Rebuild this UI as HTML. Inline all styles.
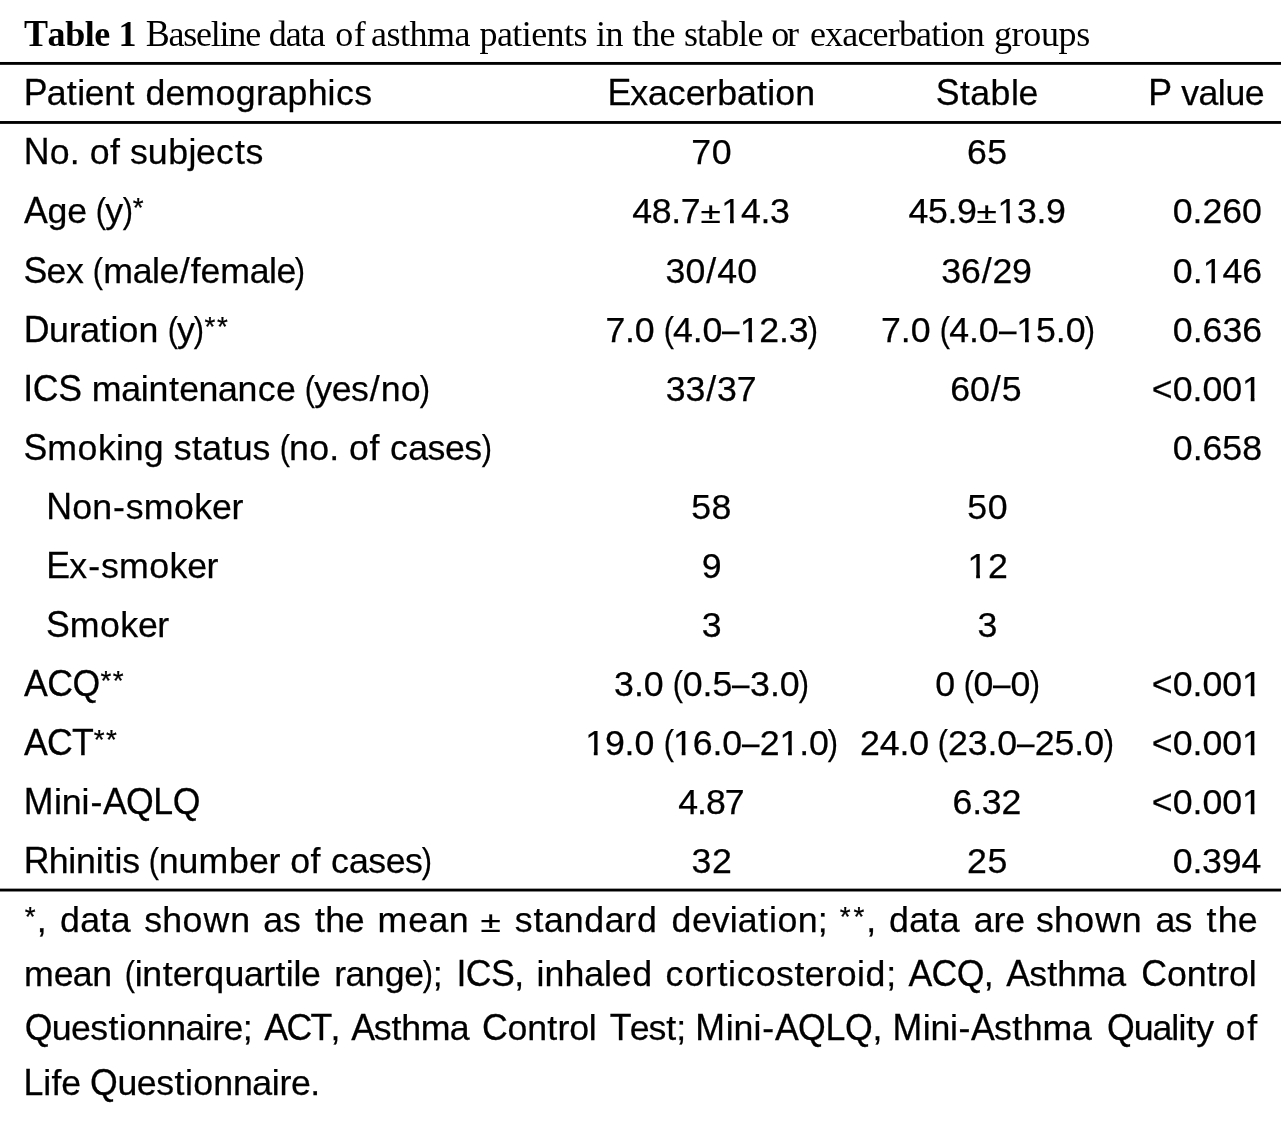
<!DOCTYPE html>
<html><head><meta charset="utf-8"><title>Table 1</title>
<style>
html,body{margin:0;padding:0;background:#fff;}
body{width:1281px;height:1125px;position:relative;overflow:hidden;font-family:"Liberation Sans",sans-serif;color:#000;}
#w{position:absolute;left:0;top:0;width:1281px;height:1125px;will-change:transform;}
.s,.cb,.cr{position:absolute;white-space:pre;line-height:40px;height:40px;}
.s{font-size:35.7px;-webkit-text-stroke:0.25px #000;}
.cb,.cr{font-family:"Liberation Serif",serif;font-size:36.0px;}
.cb{font-weight:bold;}
.U,.G{display:inline-block;transform-origin:0 32px;}
.U{transform:scaleY(1.04);}
.G{transform:scaleY(1.03);}
.o{display:inline-block;clip-path:polygon(0 0,100% 0,100% 28.7px,12.45px 28.7px,12.45px 100%,8.65px 100%,8.65px 28.7px,0 28.7px);}
.hl{position:absolute;left:0;width:1281px;background:#000;}
.k0{letter-spacing:calc(var(--r,0px) + -0.056em);margin:0 0.028em 0 -0.028em;}
.k1{letter-spacing:calc(var(--r,0px) + -0.037em);margin:0 0.018em 0 -0.018em;}
.k2{letter-spacing:calc(var(--r,0px) + -0.019em);margin:0 0.009em 0 -0.009em;}
.k3{letter-spacing:calc(var(--r,0px) + -0.018em);margin:0 0.009em 0 -0.009em;}
.k4{letter-spacing:calc(var(--r,0px) + 0.016em);margin:0 -0.008em 0 0.008em;}
.k5{letter-spacing:calc(var(--r,0px) + 0.018em);margin:0 -0.009em 0 0.009em;}
.k6{letter-spacing:calc(var(--r,0px) + 0.019em);margin:0 -0.009em 0 0.009em;}
.k7{letter-spacing:calc(var(--r,0px) + 0.020em);margin:0 -0.010em 0 0.010em;}
.k8{letter-spacing:calc(var(--r,0px) + 0.036em);margin:0 -0.018em 0 0.018em;}
.k9{letter-spacing:calc(var(--r,0px) + 0.037em);margin:0 -0.018em 0 0.018em;}
.k10{letter-spacing:calc(var(--r,0px) + 0.038em);margin:0 -0.019em 0 0.019em;}
.k11{letter-spacing:calc(var(--r,0px) + 0.055em);margin:0 -0.028em 0 0.028em;}
.k12{letter-spacing:calc(var(--r,0px) + 0.056em);margin:0 -0.028em 0 0.028em;}
.pa{display:inline-block;transform:scaleX(.86);letter-spacing:calc(var(--r,0px) + -0.074em);margin:0 0.037em 0 -0.037em;}
.pm{display:inline-block;transform:scale(1.04,.83);transform-origin:50% 32px;letter-spacing:calc(var(--r,0px) + 0.051em);margin:0 -0.026em 0 0.026em;}
.da{display:inline-block;transform:scaleX(.88);letter-spacing:calc(var(--r,0px) + -0.056em);margin:0 0.028em 0 -0.028em;}
.as{font-size:0.78em;line-height:0;position:relative;top:-6.4px;letter-spacing:calc(var(--r,0px) + 0.062em);margin:0 -0.031em 0 0.031em;}

</style></head><body><div id="w">
<svg width="1281" height="1125" viewBox="0 0 1281 1125" style="position:absolute;left:0;top:0"><rect x="0" y="61.98" width="1281" height="2.85" fill="#000"/><rect x="0" y="121.03" width="1281" height="2.85" fill="#000"/><rect x="0" y="888.63" width="1281" height="2.85" fill="#000"/></svg>
<div class="s" id="a0" style="left:24.17px;top:73.00px;letter-spacing:-0.131px;--r:-0.131px;"><span class="U"><span class="k2">P</span></span><span class="k2">a</span><span class="k9">t</span>i<span class="k2">e</span>n<span class="k9">t</span> <span class="k9">d</span><span class="k2">e</span><span class="k7">m</span><span class="k5">og</span>r<span class="k2">a</span><span class="k9">p</span>hi<span class="k9">c</span>s</div>
<div class="s" id="a1" style="left:23.81px;top:132.00px;letter-spacing:-0.124px;--r:-0.124px;"><span class="U">N</span><span class="k5">o</span>. <span class="k5">of</span> su<span class="k9">b</span>j<span class="k2">e</span><span class="k9">ct</span>s</div>
<div class="s" id="a2" style="left:24.21px;top:191.00px;letter-spacing:-0.190px;--r:-0.190px;"><span class="U"><span class="k2">A</span></span><span class="k5">g</span><span class="k2">e</span> <span class="pa">(</span>y<span class="pa">)</span><span class="as">*</span></div>
<div class="s" id="a3" style="left:23.89px;top:251.00px;letter-spacing:-0.203px;--r:-0.203px;"><span class="U"><span class="k2">S</span></span><span class="k2">e</span><span class="k5">x</span> <span class="pa">(</span><span class="k7">m</span><span class="k2">a</span>l<span class="k2">e</span><span class="k11">/</span><span class="k5">f</span><span class="k2">e</span><span class="k7">m</span><span class="k2">a</span>l<span class="k2">e</span><span class="pa">)</span></div>
<div class="s" id="a4" style="left:24.15px;top:310.00px;letter-spacing:-0.190px;--r:-0.190px;"><span class="U"><span class="k3">D</span></span>ur<span class="k2">a</span><span class="k9">t</span>i<span class="k5">o</span>n <span class="pa">(</span>y<span class="pa">)</span><span class="as">*</span><span class="as">*</span></div>
<div class="s" id="a5" style="left:23.64px;top:369.00px;letter-spacing:-0.098px;--r:-0.098px;"><span class="U"><span class="k2">I</span>C<span class="k2">S</span></span> <span class="k7">m</span><span class="k2">a</span>in<span class="k9">t</span><span class="k2">e</span>n<span class="k2">a</span>n<span class="k9">c</span><span class="k2">e</span> <span class="pa">(</span>y<span class="k2">e</span>s<span class="k11">/</span>n<span class="k5">o</span><span class="pa">)</span></div>
<div class="s" id="a6" style="left:23.89px;top:428.00px;letter-spacing:-0.123px;--r:-0.123px;"><span class="U"><span class="k2">S</span></span><span class="k7">m</span><span class="k5">o</span><span class="k6">k</span>in<span class="k5">g</span> s<span class="k9">t</span><span class="k2">a</span><span class="k9">t</span>us <span class="pa">(</span>n<span class="k5">o</span>. <span class="k5">of</span> <span class="k9">c</span><span class="k2">a</span>s<span class="k2">e</span>s<span class="pa">)</span></div>
<div class="s" id="a7" style="left:46.22px;top:487.00px;letter-spacing:-0.151px;--r:-0.151px;"><span class="U">N</span><span class="k5">o</span>n<span class="k12">-</span>s<span class="k7">m</span><span class="k5">o</span><span class="k6">k</span><span class="k2">e</span>r</div>
<div class="s" id="a8" style="left:47.22px;top:546.00px;letter-spacing:-0.163px;--r:-0.163px;"><span class="U"><span class="k0">E</span></span><span class="k5">x</span><span class="k12">-</span>s<span class="k7">m</span><span class="k5">o</span><span class="k6">k</span><span class="k2">e</span>r</div>
<div class="s" id="a9" style="left:46.36px;top:605.00px;letter-spacing:-0.164px;--r:-0.164px;"><span class="U"><span class="k2">S</span></span><span class="k7">m</span><span class="k5">o</span><span class="k6">k</span><span class="k2">e</span>r</div>
<div class="s" id="a10" style="left:24.21px;top:664.00px;letter-spacing:-0.209px;--r:-0.209px;"><span class="U"><span class="k2">A</span>C<span class="k3">Q</span></span><span class="as">*</span><span class="as">*</span></div>
<div class="s" id="a11" style="left:24.21px;top:723.00px;letter-spacing:-0.241px;--r:-0.241px;"><span class="U"><span class="k2">A</span>C<span class="k1">T</span></span><span class="as">*</span><span class="as">*</span></div>
<div class="s" id="a12" style="left:23.05px;top:782.00px;letter-spacing:-0.114px;--r:-0.114px;"><span class="U"><span class="k10">M</span></span>ini<span class="k12">-</span><span class="U"><span class="k2">A</span><span class="k3">Q</span>L<span class="k3">Q</span></span></div>
<div class="s" id="a13" style="left:24.35px;top:841.00px;letter-spacing:-0.178px;--r:-0.178px;"><span class="U"><span class="k1">R</span></span>hini<span class="k9">t</span>is <span class="pa">(</span>nu<span class="k7">m</span><span class="k9">b</span><span class="k2">e</span>r <span class="k5">of</span> <span class="k9">c</span><span class="k2">a</span>s<span class="k2">e</span>s<span class="pa">)</span></div>
<div class="s" id="b0" style="left:608.52px;top:73.00px;letter-spacing:-0.287px;--r:-0.287px;"><span class="U"><span class="k0">E</span></span><span class="k5">x</span><span class="k2">a</span><span class="k9">c</span><span class="k2">e</span>r<span class="k9">b</span><span class="k2">a</span><span class="k9">t</span>i<span class="k5">o</span>n</div>
<div class="s" id="b1" style="left:691.22px;top:132.00px;letter-spacing:0.600px;--r:0.600px;">70</div>
<div class="s" id="b2" style="left:632.16px;top:191.00px;letter-spacing:-0.337px;--r:-0.337px;">48.7<span class="pm">±</span><span class="o">1</span>4.3</div>
<div class="s" id="b3" style="left:665.46px;top:251.00px;letter-spacing:0.099px;--r:0.099px;">30<span class="k11">/</span>40</div>
<div class="s" id="b4" style="left:605.42px;top:310.00px;letter-spacing:-0.218px;--r:-0.218px;">7.0 <span class="pa">(</span>4.0<span class="da">–</span><span class="o">1</span>2.3<span class="pa">)</span></div>
<div class="s" id="b5" style="left:665.72px;top:369.00px;letter-spacing:-0.121px;--r:-0.121px;">33<span class="k11">/</span>37</div>
<div class="s" id="b7" style="left:691.17px;top:487.00px;letter-spacing:0.600px;--r:0.600px;">58</div>
<div class="s" id="b8" style="left:701.63px;top:546.00px;">9</div>
<div class="s" id="b9" style="left:701.85px;top:605.00px;">3</div>
<div class="s" id="b10" style="left:614.08px;top:664.00px;letter-spacing:-0.030px;--r:-0.030px;">3.0 <span class="pa">(</span>0.5<span class="da">–</span>3.0<span class="pa">)</span></div>
<div class="s" id="b11" style="left:585.18px;top:723.00px;letter-spacing:-0.131px;--r:-0.131px;"><span class="o">1</span>9.0 <span class="pa">(</span><span class="o">1</span>6.0<span class="da">–</span>2<span class="o">1</span>.0<span class="pa">)</span></div>
<div class="s" id="b12" style="left:678.17px;top:782.00px;letter-spacing:-0.970px;--r:-0.970px;">4.87</div>
<div class="s" id="b13" style="left:691.55px;top:841.00px;letter-spacing:0.600px;--r:0.600px;">32</div>
<div class="s" id="c0" style="left:936.18px;top:73.00px;letter-spacing:0.013px;--r:0.013px;"><span class="U"><span class="k2">S</span></span><span class="k9">t</span><span class="k2">a</span><span class="k9">b</span>l<span class="k2">e</span></div>
<div class="s" id="c1" style="left:966.88px;top:132.00px;letter-spacing:0.600px;--r:0.600px;">65</div>
<div class="s" id="c2" style="left:908.62px;top:191.00px;letter-spacing:-0.382px;--r:-0.382px;">45.9<span class="pm">±</span><span class="o">1</span>3.9</div>
<div class="s" id="c3" style="left:941.25px;top:251.00px;letter-spacing:-0.152px;--r:-0.152px;">36<span class="k11">/</span>29</div>
<div class="s" id="c4" style="left:881.12px;top:310.00px;letter-spacing:-0.112px;--r:-0.112px;">7.0 <span class="pa">(</span>4.0<span class="da">–</span><span class="o">1</span>5.0<span class="pa">)</span></div>
<div class="s" id="c5" style="left:950.19px;top:369.00px;letter-spacing:-0.007px;--r:-0.007px;">60<span class="k11">/</span>5</div>
<div class="s" id="c7" style="left:967.25px;top:487.00px;letter-spacing:0.600px;--r:0.600px;">50</div>
<div class="s" id="c8" style="left:967.50px;top:546.00px;letter-spacing:0.600px;--r:0.600px;"><span class="o">1</span>2</div>
<div class="s" id="c9" style="left:977.59px;top:605.00px;">3</div>
<div class="s" id="c10" style="left:935.21px;top:664.00px;letter-spacing:-0.273px;--r:-0.273px;">0 <span class="pa">(</span>0<span class="da">–</span>0<span class="pa">)</span></div>
<div class="s" id="c11" style="left:859.90px;top:723.00px;letter-spacing:-0.094px;--r:-0.094px;">24.0 <span class="pa">(</span>23.0<span class="da">–</span>25.0<span class="pa">)</span></div>
<div class="s" id="c12" style="left:952.60px;top:782.00px;letter-spacing:-0.243px;--r:-0.243px;">6.32</div>
<div class="s" id="c13" style="left:966.94px;top:841.00px;letter-spacing:0.600px;--r:0.600px;">25</div>
<div class="s" id="d0" style="left:1148.54px;top:73.00px;letter-spacing:-0.213px;--r:-0.213px;"><span class="U"><span class="k2">P</span></span> v<span class="k2">a</span>lu<span class="k2">e</span></div>
<div class="s" id="d2" style="left:1172.78px;top:191.00px;letter-spacing:-0.041px;--r:-0.041px;">0.260</div>
<div class="s" id="d3" style="left:1172.87px;top:251.00px;">0.<span class="o">1</span>46</div>
<div class="s" id="d4" style="left:1172.87px;top:310.00px;">0.636</div>
<div class="s" id="d6" style="left:1172.82px;top:428.00px;letter-spacing:-0.022px;--r:-0.022px;">0.658</div>
<div class="s" id="d13" style="left:1172.73px;top:841.00px;letter-spacing:-0.189px;--r:-0.189px;">0.394</div>
<div class="s" id="d5" style="left:1151.40px;top:369.00px;letter-spacing:-0.041px;--r:-0.041px;"><span class="k4">&lt;</span>0.00<span class="o">1</span></div>
<div class="s" id="d10" style="left:1151.40px;top:664.00px;letter-spacing:-0.041px;--r:-0.041px;"><span class="k4">&lt;</span>0.00<span class="o">1</span></div>
<div class="s" id="d11" style="left:1151.40px;top:723.00px;letter-spacing:-0.041px;--r:-0.041px;"><span class="k4">&lt;</span>0.00<span class="o">1</span></div>
<div class="s" id="d12" style="left:1151.40px;top:782.00px;letter-spacing:-0.041px;--r:-0.041px;"><span class="k4">&lt;</span>0.00<span class="o">1</span></div>
<div class="s" id="g1_0" style="left:23.84px;top:900.00px;letter-spacing:0.365px;--r:0.365px;"><span class="as">*</span>,</div>
<div class="s" id="g1_1" style="left:59.24px;top:900.00px;letter-spacing:0.050px;--r:0.050px;"><span class="k9">d</span><span class="k2">a</span><span class="k9">t</span><span class="k2">a</span></div>
<div class="s" id="g1_2" style="left:144.17px;top:900.00px;letter-spacing:0.203px;--r:0.203px;">sh<span class="k5">o</span><span class="k8">w</span>n</div>
<div class="s" id="g1_3" style="left:263.58px;top:900.00px;letter-spacing:0.263px;--r:0.263px;"><span class="k2">a</span>s</div>
<div class="s" id="g1_4" style="left:314.25px;top:900.00px;letter-spacing:-0.141px;--r:-0.141px;"><span class="k9">t</span>h<span class="k2">e</span></div>
<div class="s" id="g1_5" style="left:377.24px;top:900.00px;letter-spacing:0.927px;--r:0.927px;"><span class="k7">m</span><span class="k2">ea</span>n</div>
<div class="s" id="g1_6" style="left:480.45px;top:900.00px;"><span class="pm">±</span></div>
<div class="s" id="g1_7" style="left:514.87px;top:900.00px;letter-spacing:0.160px;--r:0.160px;">s<span class="k9">t</span><span class="k2">a</span>n<span class="k9">d</span><span class="k2">a</span>r<span class="k9">d</span></div>
<div class="s" id="g1_8" style="left:670.98px;top:900.00px;letter-spacing:0.229px;--r:0.229px;"><span class="k9">d</span><span class="k2">e</span>vi<span class="k2">a</span><span class="k9">t</span>i<span class="k5">o</span>n;</div>
<div class="s" id="g1_9" style="left:838.96px;top:900.00px;letter-spacing:1.127px;--r:1.127px;"><span class="as">*</span><span class="as">*</span>,</div>
<div class="s" id="g1_10" style="left:888.24px;top:900.00px;letter-spacing:0.050px;--r:0.050px;"><span class="k9">d</span><span class="k2">a</span><span class="k9">t</span><span class="k2">a</span></div>
<div class="s" id="g1_11" style="left:974.08px;top:900.00px;letter-spacing:0.198px;--r:0.198px;"><span class="k2">a</span>r<span class="k2">e</span></div>
<div class="s" id="g1_12" style="left:1036.00px;top:900.00px;letter-spacing:0.136px;--r:0.136px;">sh<span class="k5">o</span><span class="k8">w</span>n</div>
<div class="s" id="g1_13" style="left:1155.70px;top:900.00px;letter-spacing:-0.302px;--r:-0.302px;"><span class="k2">a</span>s</div>
<div class="s" id="g1_14" style="left:1205.83px;top:900.00px;letter-spacing:0.553px;--r:0.553px;"><span class="k9">t</span>h<span class="k2">e</span></div>
<div class="s" id="g2_0" style="left:23.78px;top:954.00px;letter-spacing:-0.139px;--r:-0.139px;"><span class="k7">m</span><span class="k2">ea</span>n</div>
<div class="s" id="g2_1" style="left:125.65px;top:954.00px;letter-spacing:-0.231px;--r:-0.231px;"><span class="pa">(</span>in<span class="k9">t</span><span class="k2">e</span>r<span class="k9">q</span>u<span class="k2">a</span>r<span class="k9">t</span>il<span class="k2">e</span></div>
<div class="s" id="g2_2" style="left:334.16px;top:954.00px;letter-spacing:-0.228px;--r:-0.228px;">r<span class="k2">a</span>n<span class="k5">g</span><span class="k2">e</span><span class="pa">)</span>;</div>
<div class="s" id="g2_3" style="left:456.72px;top:954.00px;letter-spacing:-0.200px;--r:-0.200px;"><span class="U"><span class="k2">I</span>C<span class="k2">S</span></span>,</div>
<div class="s" id="g2_4" style="left:536.45px;top:954.00px;letter-spacing:0.193px;--r:0.193px;">inh<span class="k2">a</span>l<span class="k2">e</span><span class="k9">d</span></div>
<div class="s" id="g2_5" style="left:664.94px;top:954.00px;letter-spacing:0.074px;--r:0.074px;"><span class="k9">c</span><span class="k5">o</span>r<span class="k9">t</span>i<span class="k9">c</span><span class="k5">o</span>s<span class="k9">t</span><span class="k2">e</span>r<span class="k5">o</span>i<span class="k9">d</span>;</div>
<div class="s" id="g2_6" style="left:908.84px;top:954.00px;letter-spacing:-0.400px;--r:-0.400px;"><span class="U"><span class="k2">A</span>C<span class="k3">Q</span></span>,</div>
<div class="s" id="g2_7" style="left:1006.50px;top:954.00px;letter-spacing:-0.488px;--r:-0.488px;"><span class="U"><span class="k2">A</span></span>s<span class="k9">t</span>h<span class="k7">m</span><span class="k2">a</span></div>
<div class="s" id="g2_8" style="left:1141.18px;top:954.00px;letter-spacing:-0.369px;--r:-0.369px;"><span class="U">C</span><span class="k5">o</span>n<span class="k9">t</span>r<span class="k5">o</span>l</div>
<div class="s" id="g3_0" style="left:25.02px;top:1008.00px;letter-spacing:-0.292px;--r:-0.292px;"><span class="U"><span class="k3">Q</span></span>u<span class="k2">e</span>s<span class="k9">t</span>i<span class="k5">o</span>nn<span class="k2">a</span>ir<span class="k2">e</span>;</div>
<div class="s" id="g3_1" style="left:264.66px;top:1008.00px;letter-spacing:-1.187px;--r:-1.187px;"><span class="U"><span class="k2">A</span>C<span class="k1">T</span></span>,</div>
<div class="s" id="g3_2" style="left:351.51px;top:1008.00px;letter-spacing:-0.809px;--r:-0.809px;"><span class="U"><span class="k2">A</span></span>s<span class="k9">t</span>h<span class="k7">m</span><span class="k2">a</span></div>
<div class="s" id="g3_3" style="left:482.01px;top:1008.00px;letter-spacing:-0.488px;--r:-0.488px;"><span class="U">C</span><span class="k5">o</span>n<span class="k9">t</span>r<span class="k5">o</span>l</div>
<div class="s" id="g3_4" style="left:610.33px;top:1008.00px;letter-spacing:-0.709px;--r:-0.709px;"><span class="U"><span class="k1">T</span></span><span class="k2">e</span>s<span class="k9">t</span>;</div>
<div class="s" id="g3_5" style="left:694.61px;top:1008.00px;letter-spacing:-0.021px;--r:-0.021px;"><span class="U"><span class="k10">M</span></span>ini<span class="k12">-</span><span class="U"><span class="k2">A</span><span class="k3">Q</span>L<span class="k3">Q</span></span>,</div>
<div class="s" id="g3_6" style="left:891.90px;top:1008.00px;letter-spacing:-0.272px;--r:-0.272px;"><span class="U"><span class="k10">M</span></span>ini<span class="k12">-</span><span class="U"><span class="k2">A</span></span>s<span class="k9">t</span>h<span class="k7">m</span><span class="k2">a</span></div>
<div class="s" id="g3_7" style="left:1107.36px;top:1008.00px;letter-spacing:-0.749px;--r:-0.749px;"><span class="U"><span class="k3">Q</span></span>u<span class="k2">a</span>li<span class="k9">t</span>y</div>
<div class="s" id="g3_8" style="left:1225.31px;top:1008.00px;letter-spacing:1.098px;--r:1.098px;"><span class="k5">of</span></div>
<div class="s" id="f4" style="left:23.57px;top:1063.00px;letter-spacing:-0.123px;--r:-0.123px;"><span class="U">L</span>i<span class="k5">f</span><span class="k2">e</span> <span class="U"><span class="k3">Q</span></span>u<span class="k2">e</span>s<span class="k9">t</span>i<span class="k5">o</span>nn<span class="k2">a</span>ir<span class="k2">e</span>.</div>
<div class="cb" id="t1" style="left:23.98px;top:14.00px;letter-spacing:-0.423px;--r:-0.423px;"><span class="U">T</span>able 1</div>
<div class="cr" id="t2" style="left:145.67px;top:14.00px;letter-spacing:-1.213px;--r:-1.213px;"><span class="U">B</span>aseline</div>
<div class="cr" id="t3" style="left:268.73px;top:14.00px;letter-spacing:-1.047px;--r:-1.047px;">data</div>
<div class="cr" id="t4" style="left:335.33px;top:14.00px;letter-spacing:0.500px;--r:0.500px;">of</div>
<div class="cr" id="t5" style="left:371.00px;top:14.00px;letter-spacing:-0.496px;--r:-0.496px;">asthma</div>
<div class="cr" id="t6" style="left:479.49px;top:14.00px;letter-spacing:-0.575px;--r:-0.575px;">patients</div>
<div class="cr" id="t7" style="left:596.05px;top:14.00px;letter-spacing:-0.490px;--r:-0.490px;">in</div>
<div class="cr" id="t8" style="left:632.35px;top:14.00px;letter-spacing:-0.382px;--r:-0.382px;">the</div>
<div class="cr" id="t9" style="left:683.98px;top:14.00px;letter-spacing:-0.916px;--r:-0.916px;">stable</div>
<div class="cr" id="t10" style="left:771.22px;top:14.00px;letter-spacing:-2.118px;--r:-2.118px;">or</div>
<div class="cr" id="t11" style="left:809.90px;top:14.00px;letter-spacing:-0.813px;--r:-0.813px;">exacerbation</div>
<div class="cr" id="t12" style="left:993.88px;top:14.00px;letter-spacing:-0.316px;--r:-0.316px;">groups</div>
</div></body></html>
